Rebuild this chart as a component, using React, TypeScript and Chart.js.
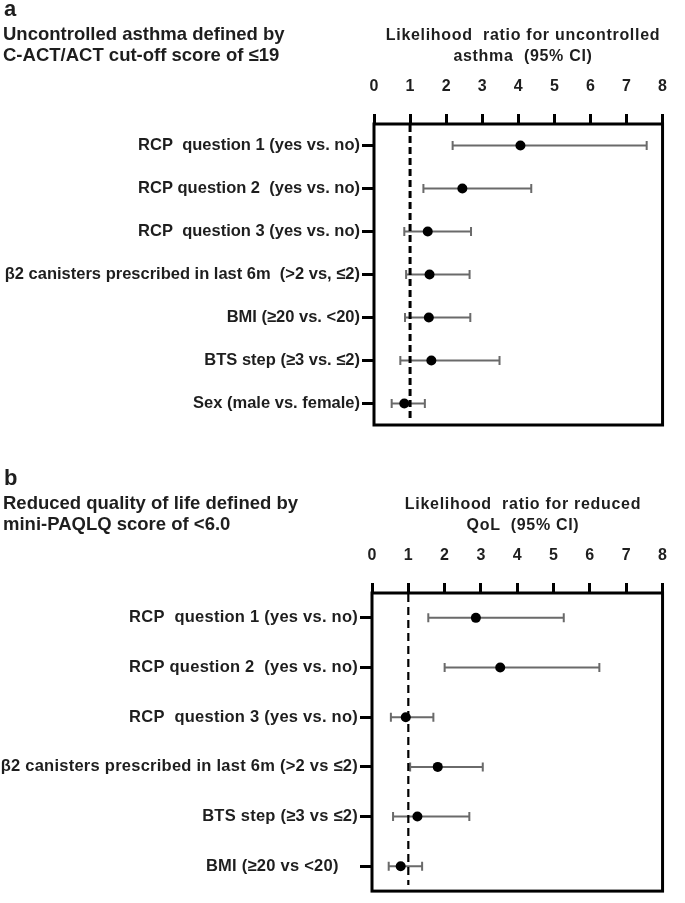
import React, { useEffect, useRef } from "react";
import { Chart, registerables } from "chart.js";

Chart.register(...registerables);

// ---------- data ----------
const REF_VALUE = 1;
const X_MIN = 0;
const X_MAX = 8;
const X_STEP = 1;

const categoriesA = [
  "RCP  question 1 (yes vs. no)",
  "RCP question 2  (yes vs. no)",
  "RCP  question 3 (yes vs. no)",
  "\u03b22 canisters prescribed in last 6m  (>2 vs, \u22642)",
  "BMI (\u226520 vs. <20)",
  "BTS step (\u22653 vs. \u22642)",
  "Sex (male vs. female)",
];
const ratioA = [4.06, 2.45, 1.49, 1.54, 1.52, 1.59, 0.84];
const lowA = [2.18, 1.37, 0.84, 0.89, 0.86, 0.73, 0.49];
const highA = [7.56, 4.36, 2.69, 2.65, 2.67, 3.48, 1.41];

const categoriesB = [
  "RCP  question 1 (yes vs. no)",
  "RCP question 2  (yes vs. no)",
  "RCP  question 3 (yes vs. no)",
  "\u03b22 canisters prescribed in last 6m (>2 vs \u22642)",
  "BTS step (\u22653 vs \u22642)",
  "BMI (\u226520 vs <20)    ",
];
const ratioB = [2.86, 3.53, 0.93, 1.81, 1.25, 0.79];
const lowB = [1.55, 2.0, 0.52, 1.05, 0.58, 0.46];
const highB = [5.28, 6.26, 1.69, 3.05, 2.68, 1.38];

const titleA = ["Uncontrolled asthma defined by", "C-ACT/ACT cut-off score of \u226419"];
const axisTitleA = ["Likelihood  ratio for uncontrolled", "asthma  (95% CI)"];
const titleB = ["Reduced quality of life defined by", "mini-PAQLQ score of <6.0"];
const axisTitleB = ["Likelihood  ratio for reduced", "QoL  (95% CI)"];

// ---------- styles ----------
const FONT = "'Liberation Sans', Arial, Helvetica, sans-serif";
const TEXT = "#1e1e1e";
const CI_COLOR = "#6a6a6a";

const forestPlugin = {
  id: "forest",
  beforeDraw(chart: any, _args: any, opts: any) {
    chart.ctx.letterSpacing = opts.letterSpacing || "0px";
  },
  beforeDatasetsDraw(chart: any, _args: any, opts: any) {
    const { ctx, chartArea, scales } = chart;
    const xs = scales.x;
    const ds: any = chart.data.datasets[0];
    const meta = chart.getDatasetMeta(0);
    ctx.save();
    ctx.strokeStyle = CI_COLOR;
    ctx.lineWidth = 2;
    meta.data.forEach((pt: any, i: number) => {
      const y = pt.y;
      const x1 = xs.getPixelForValue(ds.low[i]);
      const x2 = xs.getPixelForValue(ds.high[i]);
      const c = opts.cap;
      ctx.beginPath();
      ctx.moveTo(x1, y);
      ctx.lineTo(x2, y);
      ctx.moveTo(x1, y - c);
      ctx.lineTo(x1, y + c);
      ctx.moveTo(x2, y - c);
      ctx.lineTo(x2, y + c);
      ctx.stroke();
    });
    const xr = xs.getPixelForValue(REF_VALUE);
    ctx.strokeStyle = "#000";
    ctx.lineWidth = opts.dashWidth;
    ctx.setLineDash(opts.dash);
    ctx.beginPath();
    ctx.moveTo(xr, chartArea.top + 1);
    ctx.lineTo(xr, chartArea.bottom - opts.dashGap);
    ctx.stroke();
    ctx.restore();
  },
  afterDraw(chart: any) {
    const { ctx, chartArea } = chart;
    ctx.save();
    ctx.strokeStyle = "#000";
    ctx.lineWidth = 3;
    ctx.strokeRect(
      chartArea.left,
      chartArea.top,
      chartArea.right - chartArea.left,
      chartArea.bottom - chartArea.top
    );
    ctx.restore();
    ctx.letterSpacing = "0px";
  },
};

type PanelProps = {
  cats: string[];
  ratio: number[];
  low: number[];
  high: number[];
  top: number;
  height: number;
  axisH: number;
  axisW: number;
  padR: number;
  padB: number;
  dash: number[];
  dashWidth: number;
  dashGap: number;
  labelSize: number;
  letterSpacing: string;
};

function ForestPanel(p: PanelProps) {
  const ref = useRef<HTMLCanvasElement>(null);
  useEffect(() => {
    const canvas = ref.current!;
    const chart = new Chart(canvas, {
      type: "line",
      data: {
        labels: p.cats,
        datasets: [
          {
            data: p.ratio,
            low: p.low,
            high: p.high,
            showLine: false,
            pointRadius: 5,
            pointHoverRadius: 5,
            pointBackgroundColor: "#000",
            pointBorderColor: "#000",
            pointBorderWidth: 0,
          } as any,
        ],
      },
      options: {
        indexAxis: "y",
        responsive: false,
        animation: false,
        events: [],
        layout: { padding: { top: 0, left: 0, right: p.padR, bottom: p.padB } },
        plugins: {
          legend: { display: false },
          tooltip: { enabled: false },
          forest: {
            cap: 4.5,
            dash: p.dash,
            dashWidth: p.dashWidth,
            dashGap: p.dashGap,
            letterSpacing: p.letterSpacing,
          },
        } as any,
        scales: {
          x: {
            type: "linear",
            position: "top",
            min: X_MIN,
            max: X_MAX,
            ticks: {
              stepSize: X_STEP,
              padding: 18,
              color: TEXT,
              font: { family: FONT, size: 16, weight: "bold" },
            },
            grid: {
              drawOnChartArea: false,
              drawTicks: true,
              tickLength: 10,
              tickWidth: 3,
              tickColor: "#000",
            },
            border: { display: false },
            afterFit: (s: any) => {
              s.height = p.axisH;
            },
          },
          y: {
            type: "category",
            position: "left",
            offset: true,
            ticks: {
              padding: 2,
              color: TEXT,
              font: { family: FONT, size: p.labelSize, weight: "bold" },
            },
            grid: {
              offset: false,
              drawOnChartArea: false,
              drawTicks: true,
              tickLength: 12,
              tickWidth: 3,
              tickColor: "#000",
            },
            border: { display: false },
            afterFit: (s: any) => {
              s.width = p.axisW;
            },
          },
        } as any,
      },
      plugins: [forestPlugin],
    });
    return () => chart.destroy();
  }, []);
  return (
    <canvas
      ref={ref}
      width={685}
      height={p.height}
      style={{ position: "absolute", left: 0, top: p.top, width: 685, height: p.height }}
    />
  );
}

function Text(props: {
  left?: number;
  center?: number;
  top: number;
  size: number;
  lh: number;
  spacing?: number;
  lines: string[];
}) {
  const style: any = {
    position: "absolute",
    top: props.top,
    fontFamily: FONT,
    fontWeight: "bold",
    fontSize: props.size,
    lineHeight: props.lh + "px",
    color: TEXT,
    whiteSpace: "pre",
    letterSpacing: props.spacing ? props.spacing + "px" : undefined,
  };
  if (props.center !== undefined) {
    style.left = props.center - 200;
    style.width = 400;
    style.textAlign = "center";
  } else {
    style.left = props.left;
  }
  return (
    <div style={style}>
      {props.lines.map((l, i) => (
        <div key={i}>{l}</div>
      ))}
    </div>
  );
}

export default function App() {
  const OFF = 469;
  return (
    <div
      style={{
        position: "absolute",
        left: 0,
        top: 0,
        width: 685,
        height: 903,
        background: "#fff",
        overflow: "hidden",
      }}
    >
      <ForestPanel
        cats={categoriesA}
        ratio={ratioA}
        low={lowA}
        high={highA}
        top={0}
        height={440}
        axisH={124}
        axisW={374}
        padR={8}
        padB={15}
        dash={[7, 4]}
        dashWidth={3}
        dashGap={7}
        labelSize={16.5}
        letterSpacing="0px"
      />
      <ForestPanel
        cats={categoriesB}
        ratio={ratioB}
        low={lowB}
        high={highB}
        top={OFF}
        height={434}
        axisH={124}
        axisW={372}
        padR={8}
        padB={4}
        dash={[8, 5]}
        dashWidth={2.2}
        dashGap={6}
        labelSize={16.5}
        letterSpacing="0.25px"
      />
      <Text left={4} top={-2} size={22} lh={22} lines={["a"]} />
      <Text left={3} top={23} size={18.5} lh={21} lines={titleA} />
      <Text center={523} top={24} size={16} lh={21} spacing={0.7} lines={axisTitleA} />
      <Text left={4} top={-2 + OFF} size={22} lh={22} lines={["b"]} />
      <Text left={3} top={23 + OFF} size={18.5} lh={21} lines={titleB} />
      <Text center={523} top={24 + OFF} size={16} lh={21} spacing={0.7} lines={axisTitleB} />
    </div>
  );
}
